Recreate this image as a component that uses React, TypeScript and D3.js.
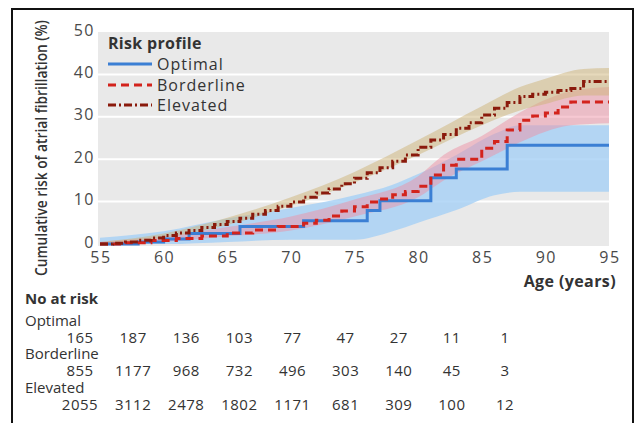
import React from "react";
import * as d3 from "d3";

const W = 634;
const H = 423;

// Step curves (age at which step begins, cumulative risk %)
const optimalAges = [55, 58, 60, 62, 66, 71, 76, 77, 81, 83, 87, 95];
const optimalRisk = [0, 0.5, 1.2, 2.5, 4.1, 5.5, 7.9, 10.2, 15.6, 17.7, 23.3, 23.3];

const borderlineAges = [55, 57, 59, 61, 63, 65, 67, 69, 71, 72, 73, 74, 75, 76, 77, 78, 79, 80, 81, 82, 83, 85, 86, 87, 88, 89, 90, 91, 92, 95];
const borderlineRisk = [0, 0.3, 0.8, 1.3, 1.9, 2.6, 3.3, 4.1, 4.9, 5.6, 6.6, 7.8, 8.8, 9.9, 10.6, 11.6, 12.4, 13.6, 16.3, 18.6, 20.0, 22.6, 24.2, 26.9, 29.2, 30.2, 30.9, 32.3, 33.5, 33.5];

const elevatedAges = [55, 56, 57, 58, 59, 60, 61, 62, 63, 64, 65, 66, 67, 68, 69, 70, 71, 72, 73, 74, 75, 76, 77, 78, 79, 80, 81, 82, 83, 84, 85, 86, 87, 88, 89, 90, 91, 92, 93, 95];
const elevatedRisk = [0, 0.2, 0.5, 0.9, 1.4, 2.0, 2.6, 3.2, 3.9, 4.6, 5.3, 6.1, 7.0, 7.9, 8.9, 9.9, 11.0, 12.0, 13.0, 14.2, 15.5, 16.8, 18.0, 19.5, 21.0, 22.8, 24.5, 25.8, 27.3, 28.6, 30.4, 32.0, 33.4, 34.8, 35.3, 35.8, 36.2, 36.7, 38.3, 38.3];

// Confidence bands
const optimalBandAges = [55, 60, 65, 70, 75, 78, 80, 83, 86, 88, 95];
const optimalLower = [0, 0, 0.5, 1, 1, 3, 5, 8, 11.5, 12.3, 12.3];
const optimalUpper = [1.5, 3, 6, 8.5, 11.5, 14, 16.5, 21, 26, 28, 28];

const borderlineBandAges = [55, 60, 65, 70, 75, 80, 82, 85, 88, 90, 92, 95];
const borderlineLower = [0, 0.5, 1.8, 3.2, 6.5, 11, 15, 19.5, 24, 26.5, 28, 28.5];
const borderlineUpper = [0.5, 1.8, 4, 6.5, 10.5, 16, 21, 25.5, 31, 34, 36, 37];

const elevatedBandAges = [55, 60, 65, 70, 75, 80, 85, 88, 90, 93, 95];
const elevatedLower = [0, 1.5, 4.5, 9, 14.5, 21, 28, 31.5, 33, 35, 35];
const elevatedUpper = [0.5, 2.5, 6.2, 11, 17, 24.5, 32.5, 37, 39, 41.3, 41.5];

const xTicks = [55, 60, 65, 70, 75, 80, 85, 90, 95];
const yTicks = [0, 10, 20, 30, 40, 50];

const tableAges = [55, 60, 65, 70, 75, 80, 85, 90, 95];
const optimalAtRisk = [165, 187, 136, 103, 77, 47, 27, 11, 1];
const borderlineAtRisk = [855, 1177, 968, 732, 496, 303, 140, 45, 3];
const elevatedAtRisk = [2055, 3112, 2478, 1802, 1171, 681, 309, 100, 12];

const series = [
  { name: "Optimal", ages: optimalAges, risk: optimalRisk, color: "#3b7fd4", dash: "", atRisk: optimalAtRisk,
    band: { ages: optimalBandAges, lo: optimalLower, hi: optimalUpper, fill: "rgba(165,208,245,0.8)" } },
  { name: "Borderline", ages: borderlineAges, risk: borderlineRisk, color: "#d3231c", dash: "8,5", atRisk: borderlineAtRisk,
    band: { ages: borderlineBandAges, lo: borderlineLower, hi: borderlineUpper, fill: "rgba(238,145,165,0.5)" } },
  { name: "Elevated", ages: elevatedAges, risk: elevatedRisk, color: "#8a1a0c", dash: "8,3,2,3", atRisk: elevatedAtRisk,
    band: { ages: elevatedBandAges, lo: elevatedLower, hi: elevatedUpper, fill: "rgba(205,180,120,0.5)" } },
];

const FONT = "'Open Sans', 'DejaVu Sans', sans-serif";
const TXT = "#333";

export default function App() {
  const x = d3.scaleLinear().domain([55, 95]).range([100, 609]);
  const y = d3.scaleLinear().domain([0, 50]).range([244, 32]);
  const col = d3.scaleLinear().domain([55, 95]).range([80, 505]);

  const line = d3
    .line<[number, number]>()
    .x((d) => x(d[0]))
    .y((d) => y(d[1]))
    .curve(d3.curveStepAfter);

  const area = d3
    .area<[number, number, number]>()
    .x((d) => x(d[0]))
    .y0((d) => y(d[1]))
    .y1((d) => y(d[2]))
    .curve(d3.curveMonotoneX);

  const legendY = [64, 85, 105];
  const rowLabelY = [321, 354, 388];

  return (
    <div style={{ position: "absolute", left: 0, top: 0 }}>
      <svg width={W} height={H} style={{ display: "block", background: "#fff" }}>
        <rect x={12} y={9} width={621} height={420} fill="none" stroke="#111" strokeWidth={2} />
        {/* plot background */}
        <rect x={x(55) - 2} y={y(50)} width={x(95) - x(55) + 2} height={y(0) - y(50) + 2} fill="#e9e9e9" />
        {yTicks.filter((t) => t > 0 && t < 50).map((t) => (
          <line key={t} x1={x(55) - 2} x2={x(95)} y1={y(t)} y2={y(t)} stroke="#fff" strokeWidth={2} />
        ))}
        {/* bands */}
        {series.map((s) => (
          <path
            key={s.name + "band"}
            d={area(s.band.ages.map((a, i) => [a, s.band.lo[i], s.band.hi[i]] as [number, number, number])) || ""}
            fill={s.band.fill}
          />
        ))}
        {/* lines */}
        {series.map((s) => (
          <path
            key={s.name}
            d={line(s.ages.map((a, i) => [a, s.risk[i]] as [number, number])) || ""}
            fill="none"
            stroke={s.color}
            strokeWidth={3}
            strokeDasharray={s.dash}
          />
        ))}
        {/* y ticks */}
        {yTicks.map((t) => (
          <text key={t} x={95} y={y(t) - 2} dy="0.35em" textAnchor="end" fontFamily={FONT} fontSize={16} letterSpacing={1.5} fill="#4a4a4a">
            {t}
          </text>
        ))}
        {/* x ticks */}
        {xTicks.map((t) => (
          <text key={t} x={x(t) + 1} y={263} textAnchor="middle" fontFamily={FONT} fontSize={16} letterSpacing={1.5} fill="#4a4a4a">
            {t}
          </text>
        ))}
        <text x={616} y={287} textAnchor="end" fontFamily={FONT} fontSize={16} fontWeight={700} letterSpacing={0.4} fill={TXT}>
          Age (years)
        </text>
        <text
          transform="translate(47,148) rotate(-90) scale(0.86,1)"
          textAnchor="middle"
          fontFamily={FONT}
          fontSize={16}
          fontWeight={600}
          fill={TXT}
        >
          Cumulative risk of atrial fibrillation (%)
        </text>
        {/* legend */}
        <text x={108} y={49} fontFamily={FONT} fontSize={16} fontWeight={700} letterSpacing={0.3} fill={TXT}>
          Risk profile
        </text>
        {series.map((s, i) => (
          <g key={s.name + "leg"}>
            <line x1={108} x2={152} y1={legendY[i]} y2={legendY[i]} stroke={s.color} strokeWidth={3} strokeDasharray={s.dash} />
            <text x={157} y={legendY[i]} dy="0.35em" fontFamily={FONT} fontSize={16} letterSpacing={1} fill={TXT}>
              {s.name}
            </text>
          </g>
        ))}
        {/* numbers at risk */}
        <text x={25} y={304} fontFamily={FONT} fontSize={15} fontWeight={700} fill={TXT}>
          No at risk
        </text>
        {series.map((s, i) => (
          <g key={s.name + "tbl"}>
            <text x={25} y={rowLabelY[i]} dy="0.35em" fontFamily={FONT} fontSize={15} fill={TXT}>
              {s.name}
            </text>
            {s.atRisk.map((n, j) => (
              <text
                key={j}
                x={col(tableAges[j])}
                y={rowLabelY[i] + 17}
                dy="0.35em"
                textAnchor="middle"
                fontFamily={FONT}
                fontSize={15}
                letterSpacing={0.5}
                fill={TXT}
              >
                {n}
              </text>
            ))}
          </g>
        ))}
      </svg>
    </div>
  );
}
